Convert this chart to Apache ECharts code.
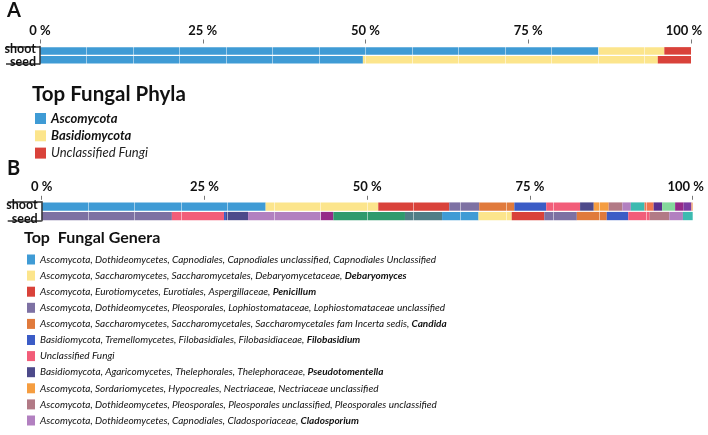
<!DOCTYPE html>
<html><head><meta charset="utf-8">
<script src="https://cdn.jsdelivr.net/npm/echarts@6/dist/echarts.min.js"></script>
<style>html,body{margin:0;padding:0;background:#fff}#c{width:708px;height:435px}</style>
</head><body><div id="c"></div>
<script>
// ---------- data ----------
const rows = ['shoot', 'seed'];
const tickValues = [0, 25, 50, 75, 100];

const phyla = ['Ascomycota', 'Basidiomycota', 'Unclassified Fungi'];
const phylaShoot = [85.8, 10.1, 4.1];
const phylaSeed = [49.6, 45.3, 5.1];

const generaLegend = ['Capnodiales', 'Debaryomyces', 'Penicillum', 'Lophiostomataceae', 'Candida',
  'Filobasidium', 'Unclassified', 'Pseudotomentella', 'Nectriaceae', 'Pleosporales', 'Cladosporium'];
const generaTaxonomy = [
  'Ascomycota, Dothideomycetes, Capnodiales, Capnodiales unclassified, Capnodiales Unclassified',
  'Ascomycota, Saccharomycetes, Saccharomycetales, Debaryomycetaceae, ',
  'Ascomycota, Eurotiomycetes, Eurotiales, Aspergillaceae, ',
  'Ascomycota, Dothideomycetes, Pleosporales, Lophiostomataceae, Lophiostomataceae unclassified',
  'Ascomycota, Saccharomycetes, Saccharomycetales, Saccharomycetales fam Incerta sedis, ',
  'Basidiomycota, Tremellomycetes, Filobasidiales, Filobasidiaceae, ',
  'Unclassified Fungi',
  'Basidiomycota, Agaricomycetes, Thelephorales, Thelephoraceae, ',
  'Ascomycota, Sordariomycetes, Hypocreales, Nectriaceae, Nectriaceae unclassified',
  'Ascomycota, Dothideomycetes, Pleosporales, Pleosporales unclassified, Pleosporales unclassified',
  'Ascomycota, Dothideomycetes, Capnodiales, Cladosporiaceae, '
];
const generaBold = ['', 'Debaryomyces', 'Penicillum', '', 'Candida', 'Filobasidium', '', 'Pseudotomentella', '', '', 'Cladosporium'];

const shootGenera = ['Capnodiales', 'Debaryomyces', 'Penicillum', 'Lophiostomataceae', 'Candida', 'Filobasidium',
  'Unclassified', 'Pseudotomentella', 'Nectriaceae', 'Pleosporales', 'Cladosporium', 'Other teal',
  'Other coral', 'Other indigo', 'Other mint', 'Other magenta', 'Other violet', 'Other apricot'];
const shootShares = [34.4, 17.3, 10.9, 4.6, 5.4, 4.9, 5.2, 2.1, 2.3, 2.1, 1.3, 2.1, 1.4, 1.3, 2.0, 1.3, 1.2, 0.2];

const seedGenera = ['Lophiostomataceae', 'Unclassified', 'Filobasidium', 'Pseudotomentella', 'Cladosporium',
  'Other magenta', 'Other green', 'Other slate', 'Capnodiales', 'Debaryomyces', 'Penicillum', 'Lophiostomataceae',
  'Candida', 'Filobasidium', 'Unclassified', 'Pleosporales', 'Cladosporium', 'Other teal'];
const seedShares = [20.0, 8.0, 0.3, 3.4, 11.2, 1.9, 11.0, 5.7, 5.6, 5.1, 5.0, 5.0, 4.6, 3.3, 3.3, 3.0, 2.1, 1.5];

// ---------- styles ----------
const phylaColors = ['#3f9bd5', '#fce58c', '#d9423a'];
const genusColors = {
  'Capnodiales': '#3f9bd5', 'Debaryomyces': '#fce58c', 'Penicillum': '#d9423a',
  'Lophiostomataceae': '#7d71a3', 'Candida': '#e07a3c', 'Filobasidium': '#3b5cc6',
  'Unclassified': '#f25d79', 'Pseudotomentella': '#4d4a8a', 'Nectriaceae': '#f59d40',
  'Pleosporales': '#b27a86', 'Cladosporium': '#b280c0',
  'Other teal': '#3cbab0', 'Other coral': '#f07650', 'Other indigo': '#5b2f8e', 'Other mint': '#84d99c',
  'Other magenta': '#952a88', 'Other violet': '#7c3ca2', 'Other apricot': '#f2a36a',
  'Other green': '#2f9a6d', 'Other slate': '#507e87'
};
const FONT = 'Lato, "Open Sans", sans-serif';

function xTop(gridIndex, bottomPad) {
  return {
    type: 'value', gridIndex, min: 0, max: 100, interval: 25, position: 'top', offset: bottomPad,
    axisLine: { show: false },
    axisTick: { show: true, length: 4, lineStyle: { color: '#777', width: 1 } },
    axisLabel: {
      margin: 6, color: '#111', fontWeight: 'bold', fontSize: 13, fontFamily: FONT,
      formatter: v => v === 100 ? '{r|' + v + ' %}' : v + ' %',
      rich: { r: { color: '#111', fontWeight: 'bold', fontSize: 13, fontFamily: FONT, padding: [0, 14, 0, 0] } }
    },
    splitLine: { show: false }
  };
}
function xLines(gridIndex) {
  return {
    type: 'value', gridIndex, min: 0, max: 14, interval: 1, position: 'bottom', z: 10,
    axisLine: { show: false }, axisTick: { show: false }, axisLabel: { show: false },
    splitLine: { show: true, showMinLine: false, showMaxLine: false, lineStyle: { color: 'rgba(255,255,255,0.5)', width: 1 } }
  };
}
function yRows(gridIndex) {
  return {
    type: 'category', gridIndex, data: rows, inverse: true, z: 11,
    axisLine: { show: true, lineStyle: { color: '#333', width: 1.5 } },
    axisTick: { show: true, length: 34, interval: (i) => i === 0, lineStyle: { color: '#333', width: 1.5 } },
    axisLabel: {
      margin: 4, interval: 0, fontFamily: FONT,
      formatter: v => '{' + (v === 'shoot' ? 's' : 'd') + '|' + v + '}',
      rich: {
        s: { fontWeight: 'bold', fontSize: 12.5, color: '#111', fontFamily: FONT, padding: [0, 0, 4, 0] },
        d: { fontWeight: 'bold', fontSize: 12.5, color: '#111', fontFamily: FONT, padding: [5, 0, 0, 0] }
      }
    },
    splitLine: { show: false }
  };
}

const series = [];
phyla.forEach((p, i) => {
  series.push({
    type: 'bar', name: p, stack: 'A', xAxisIndex: 0, yAxisIndex: 0, barWidth: 7.5,
    itemStyle: { color: phylaColors[i] }, silent: true,
    data: [phylaShoot[i], phylaSeed[i]]
  });
});
shootGenera.forEach((g, i) => {
  series.push({
    type: 'bar', name: g, stack: 'B', xAxisIndex: 2, yAxisIndex: 1, barWidth: 8.3,
    itemStyle: { color: genusColors[g] }, silent: true, data: [shootShares[i], null]
  });
});
seedGenera.forEach((g, i) => {
  series.push({
    type: 'bar', name: g, stack: 'B', xAxisIndex: 2, yAxisIndex: 1, barWidth: 8.3,
    itemStyle: { color: genusColors[g] }, silent: true, data: [null, seedShares[i]]
  });
});

const chart = echarts.init(document.getElementById('c'), null, { renderer: 'canvas' });
chart.setOption({
  animation: false,
  backgroundColor: '#fff',
  textStyle: { fontFamily: FONT },
  title: [
    { text: 'A', left: 5, top: -1, padding: 2, textStyle: { fontSize: 20, fontWeight: 'bold', color: '#111', fontFamily: FONT } },
    { text: 'Top Fungal Phyla', left: 27, top: 79, textStyle: { fontSize: 20.5, fontWeight: 'bold', color: '#111', fontFamily: FONT } },
    { text: 'B', left: 5, top: 157, padding: 2, textStyle: { fontSize: 20, fontWeight: 'bold', color: '#111', fontFamily: FONT } },
    { text: 'Top  Fungal Genera', left: 19, top: 225, textStyle: { fontSize: 16, fontWeight: 'bold', color: '#111', fontFamily: FONT } }
  ],
  grid: [
    { left: 40, right: 17, top: 46.5, height: 17.5, containLabel: false },
    { left: 41.7, right: 15.3, top: 201.8, height: 19, containLabel: false }
  ],
  xAxis: [xTop(0, 3), xLines(0), xTop(1, 2), xLines(1)],
  yAxis: [yRows(0), yRows(1)],
  legend: [
    {
      data: phyla, orient: 'vertical', left: 35, top: 112, height: 60, padding: 0,
      itemWidth: 11, itemHeight: 11, itemGap: 4.3,
      icon: 'rect', selectedMode: false, itemStyle: { borderWidth: 0 },
      formatter: n => '{' + (n === 'Unclassified Fungi' ? 'n' : 'b') + '|' + n + '}',
      textStyle: {
        rich: {
          b: { fontStyle: 'italic', fontWeight: 'bold', fontSize: 13, color: '#111', fontFamily: FONT },
          n: { fontStyle: 'italic', fontSize: 13, color: '#222', fontFamily: FONT }
        }
      }
    },
    {
      data: generaLegend, orient: 'vertical', left: 27, top: 254.5, height: 230, padding: 0,
      itemWidth: 8, itemHeight: 10, itemGap: 6.1,
      icon: 'rect', selectedMode: false, itemStyle: { borderWidth: 0 },
      formatter: n => {
        const i = generaLegend.indexOf(n);
        return '{n|' + generaTaxonomy[i] + '}' + (generaBold[i] ? '{b|' + generaBold[i] + '}' : '');
      },
      textStyle: {
        rich: {
          n: { fontStyle: 'italic', fontSize: 10, color: '#111', fontFamily: FONT, lineHeight: 10 },
          b: { fontStyle: 'italic', fontWeight: 'bold', fontSize: 10, color: '#111', fontFamily: FONT, lineHeight: 10 }
        }
      }
    }
  ],
  series
});
</script></body></html>
